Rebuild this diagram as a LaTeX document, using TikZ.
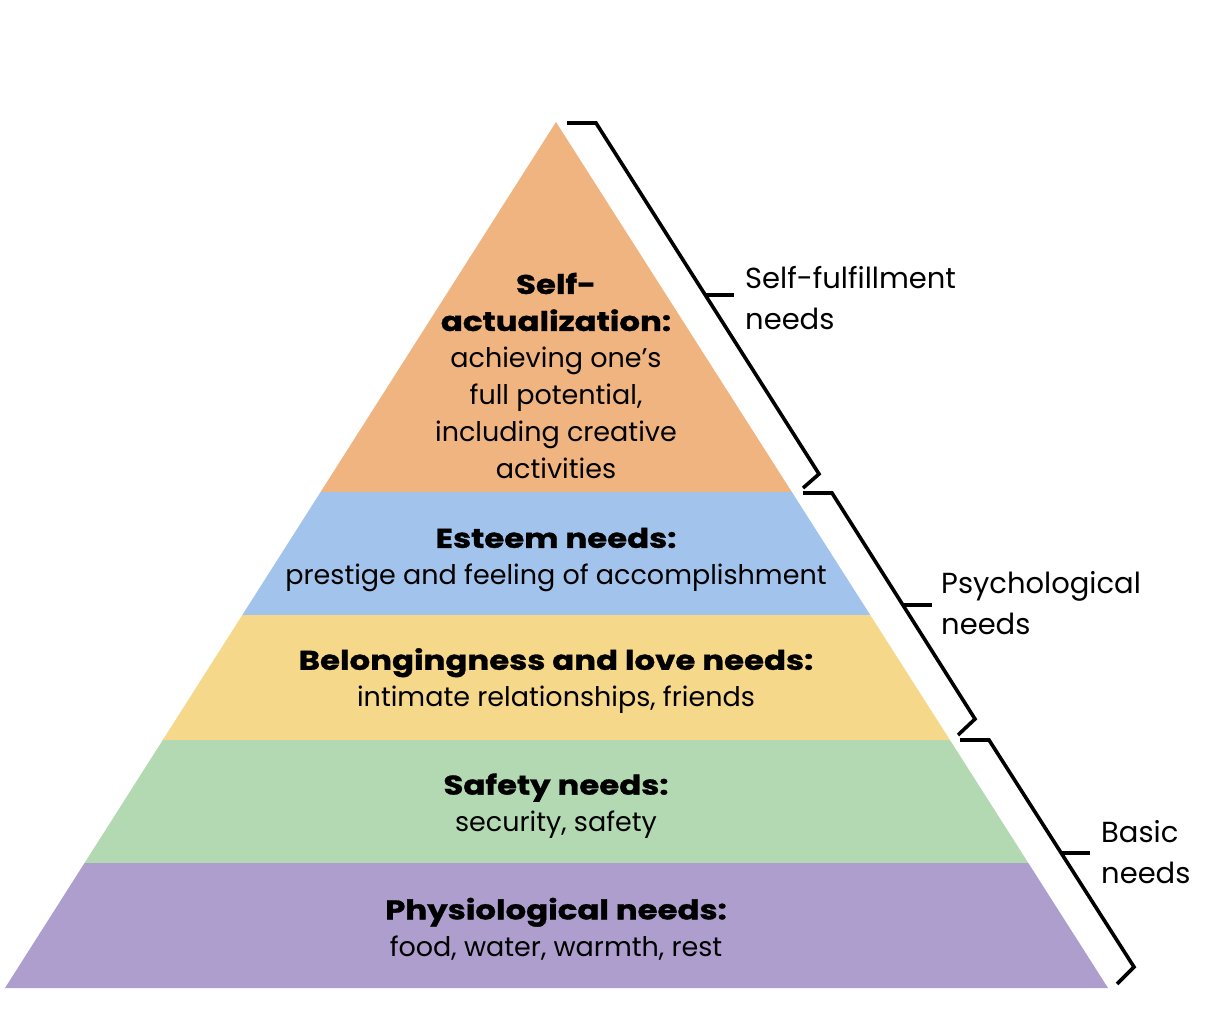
\documentclass[tikz,border=0pt]{standalone}
\usepackage{fontspec}
\setmainfont{Poppins}[BoldFeatures={FakeStretch=1.2,FakeBold=1.2}]
\definecolor{lorange}{RGB}{240,180,128}
\definecolor{lblue}{RGB}{162,196,236}
\definecolor{lyellow}{RGB}{246,216,138}
\definecolor{lgreen}{RGB}{178,217,177}
\definecolor{lpurple}{RGB}{173,158,206}
\tikzset{
  layertext/.style={align=center, inner sep=0pt, font=\fontsize{27}{37}\selectfont},
  sidetext/.style={align=left, anchor=west, inner sep=0pt, font=\fontsize{29}{41}\selectfont},
  bracket/.style={line width=3.6pt, line join=miter, black}
}
\begin{document}
\begin{tikzpicture}[x=1pt,y=-1pt]
\useasboundingbox (0,0) rectangle (1206,1030);
\fill[white] (0,0) rectangle (1206,1030);
\coordinate (apex) at (556,122);
\coordinate (bl) at (5,988);
\coordinate (br) at (1108,988);
\begin{scope}
  \clip (apex) -- (bl) -- (br) -- cycle;
  \fill[lorange] (0,100) rectangle (1206,492);
  \fill[lblue] (0,492) rectangle (1206,615);
  \fill[lyellow] (0,615) rectangle (1206,740);
  \fill[lgreen] (0,740) rectangle (1206,863);
  \fill[lpurple] (0,863) rectangle (1206,990);
\end{scope}
% layer labels
\node[layertext] (self) at (556,376) {\textbf{Self-}\\\textbf{actualization:}\\achieving one’s\\full potential,\\including creative\\activities};
\node[layertext] (esteem) at (556,560) {\textbf{Esteem needs:}\\prestige and feeling of accomplishment};
\node[layertext] (belong) at (556,681) {\textbf{Belongingness and love needs:}\\intimate relationships, friends};
\node[layertext] (safety) at (556,806) {\textbf{Safety needs:}\\security, safety};
\node[layertext] (phys) at (556,929) {\textbf{Physiological needs:}\\food, water, warmth, rest};
% brackets
\coordinate (a1) at (567,123); \coordinate (a2) at (596,123);
\coordinate (a3) at (819,474); \coordinate (a4) at (803,488);
\coordinate (at1) at (705,295); \coordinate (at2) at (734,295);
\draw[bracket] (a1) -- (a2) -- (a3) -- (a4);
\draw[bracket] (at1) -- (at2);
\coordinate (b1) at (803,493); \coordinate (b2) at (832,493);
\coordinate (b3) at (975,719); \coordinate (b4) at (958,735);
\coordinate (bt1) at (903,605); \coordinate (bt2) at (932,605);
\draw[bracket] (b1) -- (b2) -- (b3) -- (b4);
\draw[bracket] (bt1) -- (bt2);
\coordinate (c1) at (960,740); \coordinate (c2) at (989,740);
\coordinate (c3) at (1134,967); \coordinate (c4) at (1117,984);
\coordinate (ct1) at (1061,853); \coordinate (ct2) at (1090,853);
\draw[bracket] (c1) -- (c2) -- (c3) -- (c4);
\draw[bracket] (ct1) -- (ct2);
% side labels
\node[sidetext] (selff) at (745,298) {Self-fulfillment\\needs};
\node[sidetext] (psych) at (941,603) {Psychological\\needs};
\node[sidetext] (basic) at (1101,852) {Basic\\needs};
\end{tikzpicture}
\end{document}
